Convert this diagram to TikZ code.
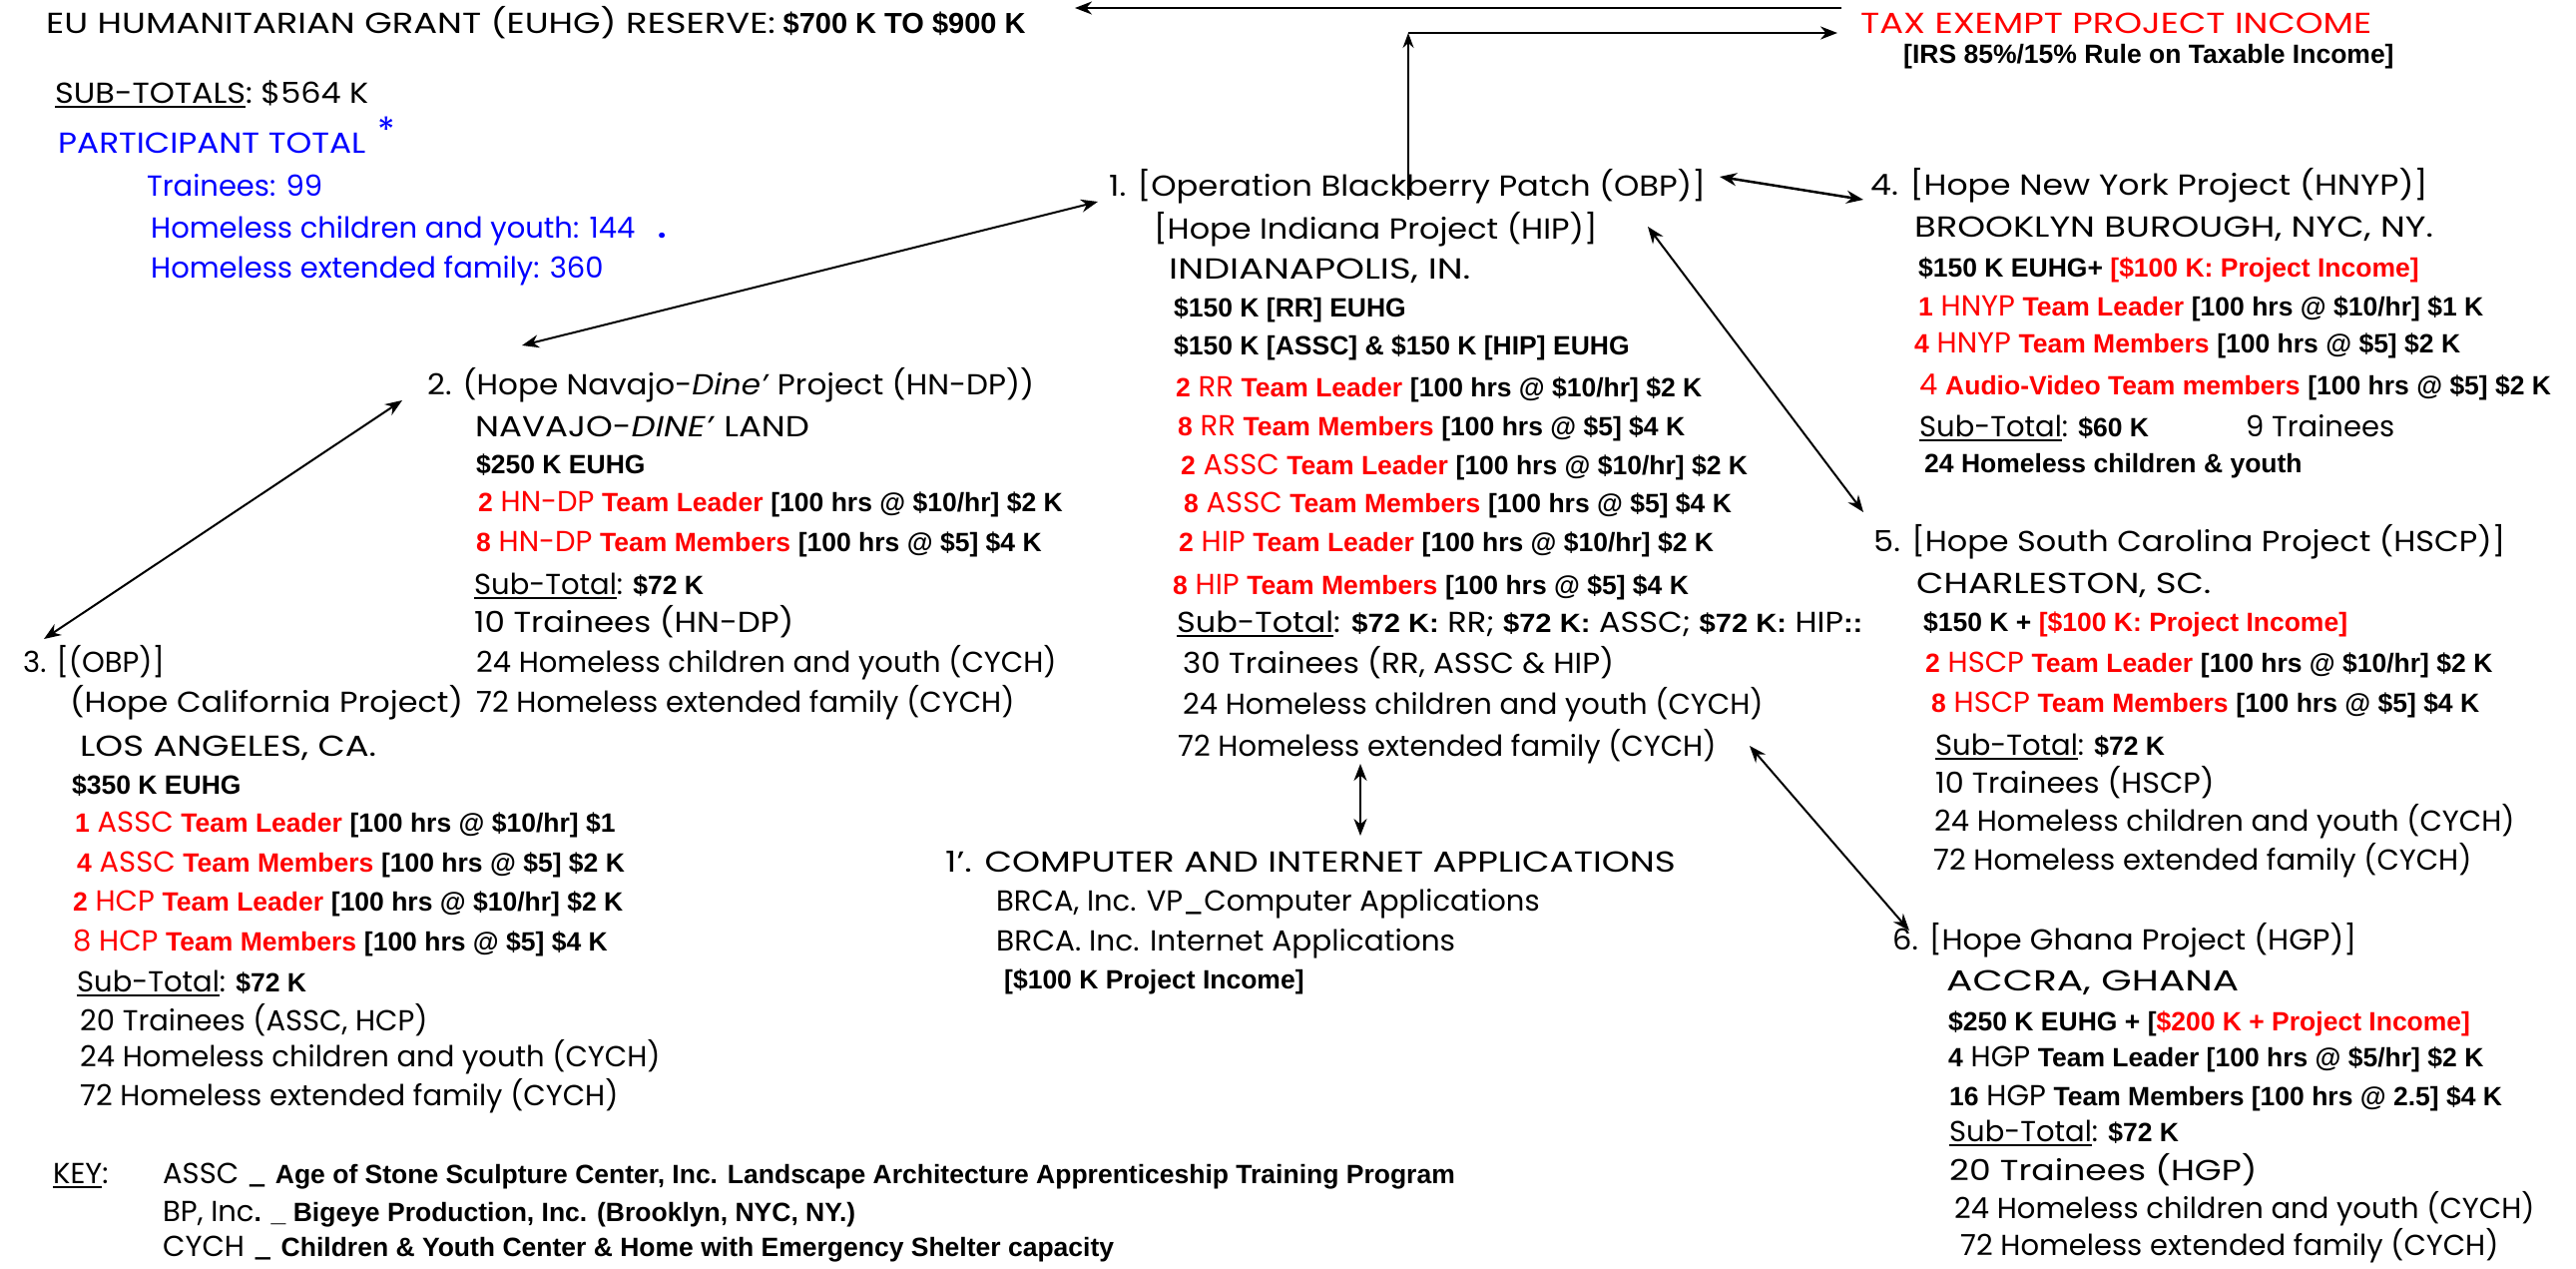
\documentclass[tikz,border=0pt]{standalone}
\usepackage{fontspec}
\setmainfont{Poppins}
\newfontfamily\arialfam{Liberation Sans}
\usepackage{xcolor}
\usetikzlibrary{arrows.meta}
\definecolor{pred}{RGB}{255,0,0}
\definecolor{pblue}{RGB}{0,0,255}

% bold parts, red parts, underlines, wider set lines
\newcommand{\bx}[1]{{\arialfam\bfseries\fontsize{26.5}{30}\selectfont #1}}
\newcommand{\bxl}[1]{{\arialfam\bfseries\fontsize{29}{34}\selectfont #1}}
\newcommand{\ulx}[1]{\setbox0=\hbox{#1}\rlap{\rule[-5pt]{\wd0}{2pt}}\box0}
\newcommand{\tml}[4]{\textcolor{pred}{\bx{#1} #2 \bx{#3}} \bx{#4}}
\newcommand{\sbt}[1]{\ulx{Sub-Total}: \bx{#1}}
\newcommand{\sx}[2]{\scalebox{#1}[1]{#2}}

\begin{document}
\begin{tikzpicture}[x=1pt,y=-1pt,
    txt/.style={anchor=base west, inner sep=0pt, font=\fontsize{29}{34}\selectfont},
    arr/.style={{Stealth[length=17pt,width=13pt]}-{Stealth[length=17pt,width=13pt]}, line width=2pt}]
    \useasboundingbox (0,0) rectangle (2581,1270);

    % top
    \node[txt] (euhg) at (46,33) {\sx{1.22}{EU HUMANITARIAN GRANT (EUHG) RESERVE:} \bxl{\$700 K TO \$900 K}};
    \node[txt, text=pred] (tax) at (1864,33) {\sx{1.22}{TAX EXEMPT PROJECT INCOME}};
    \node[txt] (irs) at (1907,63) {\bx{[IRS 85\%/15\% Rule on Taxable Income]}};

    % totals
    \node[txt] (subt) at (55,103) {\sx{1.1}{\ulx{SUB-TOTALS}:\ \$564 K}};
    \node[txt, text=pblue] (ptot) at (58,153) {\sx{1.13}{PARTICIPANT TOTAL}\hspace{12pt}\raisebox{10pt}{\fontsize{36}{36}\selectfont *}};
    \node[txt, text=pblue] (pt1) at (147,196) {Trainees: 99};
    \node[txt, text=pblue] (pt2) at (151,238) {Homeless children and youth: 144\ \ \ \textbf{.}};
    \node[txt, text=pblue] (pt3) at (151,278) {Homeless extended family: 360};

    % 1. OBP / HIP
    \node[txt] (obp1) at (1111,196) {\sx{1.11}{1. [Operation Blackberry Patch (OBP)]}};
    \node[txt] (obp2) at (1156,239) {\sx{1.1}{[Hope Indiana Project (HIP)]}};
    \node[txt] (obp3) at (1171,279) {\sx{1.27}{INDIANAPOLIS, IN.}};
    \node[txt] (obp4) at (1176,317) {\bx{\$150 K [RR] EUHG}};
    \node[txt] (obp5) at (1176,355) {\bx{\$150 K [ASSC] \& \$150 K [HIP] EUHG}};
    \node[txt] (obp6) at (1178,397) {\tml{2}{RR}{Team Leader}{[100 hrs @ \$10/hr] \$2 K}};
    \node[txt] (obp7) at (1180,436) {\tml{8}{RR}{Team Members}{[100 hrs @ \$5] \$4 K}};
    \node[txt] (obp8) at (1183,475) {\tml{2}{ASSC}{Team Leader}{[100 hrs @ \$10/hr] \$2 K}};
    \node[txt] (obp9) at (1186,513) {\tml{8}{ASSC}{Team Members}{[100 hrs @ \$5] \$4 K}};
    \node[txt] (obp10) at (1181,552) {\tml{2}{HIP}{Team Leader}{[100 hrs @ \$10/hr] \$2 K}};
    \node[txt] (obp11) at (1175,595) {\tml{8}{HIP}{Team Members}{[100 hrs @ \$5] \$4 K}};
    \node[txt] (obp12) at (1179,633) {\sx{1.1}{\ulx{Sub-Total}: \bx{\$72 K:} RR; \bx{\$72 K:} ASSC; \bx{\$72 K:} HIP\bx{::}}};
    \node[txt] (obp13) at (1185,674) {\sx{1.065}{30 Trainees (RR, ASSC \& HIP)}};
    \node[txt] (obp14) at (1185,715) {24 Homeless children and youth (CYCH)};
    \node[txt] (obp15) at (1180,757) {72 Homeless extended family (CYCH)};

    % 1'. computer and internet
    \node[txt] (cia1) at (947,873) {\sx{1.23}{1'. COMPUTER AND INTERNET APPLICATIONS}};
    \node[txt] (cia2) at (998,912) {BRCA, Inc. VP\_Computer Applications};
    \node[txt] (cia3) at (998,952) {\sx{1.02}{BRCA. Inc. Internet Applications}};
    \node[txt] (cia4) at (1006,990) {\bx{[\$100 K Project Income]}};

    % 2. HN-DP
    \node[txt] (hndp1) at (428,395) {\sx{1.07}{2. (Hope Navajo-\textit{Dine'} Project (HN-DP))}};
    \node[txt] (hndp2) at (476,437) {\sx{1.175}{NAVAJO-\textit{DINE'} LAND}};
    \node[txt] (hndp3) at (477,474) {\bx{\$250 K EUHG}};
    \node[txt] (hndp4) at (479,512) {\tml{2}{HN-DP}{Team Leader}{[100 hrs @ \$10/hr] \$2 K}};
    \node[txt] (hndp5) at (477,552) {\tml{8}{HN-DP}{Team Members}{[100 hrs @ \$5] \$4 K}};
    \node[txt] (hndp6) at (475,595) {\sbt{\$72 K}};
    \node[txt] (hndp7) at (475,633) {\sx{1.12}{10 Trainees (HN-DP)}};
    \node[txt] (hndp8) at (477,673) {24 Homeless children and youth (CYCH)};
    \node[txt] (hndp9) at (477,713) {72 Homeless extended family (CYCH)};

    % 3. HCP
    \node[txt] (hcp1) at (23,673) {3. [(OBP)]};
    \node[txt] (hcp2) at (70,713) {\sx{1.1}{(Hope California Project)}};
    \node[txt] (hcp3) at (80,757) {\sx{1.22}{LOS ANGELES, CA.}};
    \node[txt] (hcp4) at (72,795) {\bx{\$350 K EUHG}};
    \node[txt] (hcp5) at (75,833) {\tml{1}{ASSC}{Team Leader}{[100 hrs @ \$10/hr] \$1}};
    \node[txt] (hcp6) at (77,873) {\tml{4}{ASSC}{Team Members}{[100 hrs @ \$5] \$2 K}};
    \node[txt] (hcp7) at (73,912) {\tml{2}{HCP}{Team Leader}{[100 hrs @ \$10/hr] \$2 K}};
    \node[txt] (hcp8) at (73,952) {\textcolor{pred}{8 HCP \bx{Team Members}} \bx{[100 hrs @ \$5] \$4 K}};
    \node[txt] (hcp9) at (77,993) {\sbt{\$72 K}};
    \node[txt] (hcp10) at (80,1032) {20 Trainees (ASSC, HCP)};
    \node[txt] (hcp11) at (80,1068) {24 Homeless children and youth (CYCH)};
    \node[txt] (hcp12) at (80,1107) {72 Homeless extended family (CYCH)};

    % 4. HNYP
    \node[txt] (hnyp1) at (1874,195) {\sx{1.14}{4. [Hope New York Project (HNYP)]}};
    \node[txt] (hnyp2) at (1918,237) {\sx{1.22}{BROOKLYN BUROUGH, NYC, NY.}};
    \node[txt] (hnyp3) at (1922,277) {\bx{\$150 K EUHG+ \textcolor{pred}{[\$100 K: Project Income]}}};
    \node[txt] (hnyp4) at (1922,316) {\tml{1}{HNYP}{Team Leader}{[100 hrs @ \$10/hr] \$1 K}};
    \node[txt] (hnyp5) at (1918,353) {\tml{4}{HNYP}{Team Members}{[100 hrs @ \$5] \$2 K}};
    \node[txt] (hnyp6) at (1923,395) {\textcolor{pred}{4 \bx{Audio-Video Team members}} \bx{[100 hrs @ \$5] \$2 K}};
    \node[txt] (hnyp7) at (1923,437) {\sbt{\$60 K}};
    \node[txt] (hnyp8) at (2250,437) {9 Trainees};
    \node[txt] (hnyp9) at (1928,473) {\bx{24 Homeless children \& youth}};

    % 5. HSCP
    \node[txt] (hscp1) at (1877,552) {\sx{1.1}{5. [Hope South Carolina Project (HSCP)]}};
    \node[txt] (hscp2) at (1920,594) {\sx{1.22}{CHARLESTON, SC.}};
    \node[txt] (hscp3) at (1927,632) {\bx{\$150 K + \textcolor{pred}{[\$100 K: Project Income]}}};
    \node[txt] (hscp4) at (1929,673) {\tml{2}{HSCP}{Team Leader}{[100 hrs @ \$10/hr] \$2 K}};
    \node[txt] (hscp5) at (1935,713) {\tml{8}{HSCP}{Team Members}{[100 hrs @ \$5] \$4 K}};
    \node[txt] (hscp6) at (1939,756) {\sbt{\$72 K}};
    \node[txt] (hscp7) at (1939,794) {\sx{1.04}{10 Trainees (HSCP)}};
    \node[txt] (hscp8) at (1938,832) {24 Homeless children and youth (CYCH)};
    \node[txt] (hscp9) at (1937,871) {72 Homeless extended family (CYCH)};

    % 6. HGP
    \node[txt] (hgp1) at (1896,951) {\sx{1.05}{6. [Hope Ghana Project (HGP)]}};
    \node[txt] (hgp2) at (1950,992) {\sx{1.35}{ACCRA, GHANA}};
    \node[txt] (hgp3) at (1952,1032) {\bx{\$250 K EUHG + [\textcolor{pred}{\$200 K + Project Income]}}};
    \node[txt] (hgp4) at (1952,1068) {\bx{4} HGP \bx{Team Leader [100 hrs @ \$5/hr] \$2 K}};
    \node[txt] (hgp5) at (1953,1107) {\bx{16} HGP \bx{Team Members [100 hrs @ 2.5] \$4 K}};
    \node[txt] (hgp6) at (1953,1143) {\sbt{\$72 K}};
    \node[txt] (hgp7) at (1953,1182) {\sx{1.19}{20 Trainees (HGP)}};
    \node[txt] (hgp8) at (1958,1220) {24 Homeless children and youth (CYCH)};
    \node[txt] (hgp9) at (1964,1257) {72 Homeless extended family (CYCH)};

    % key
    \node[txt] (key) at (53,1185) {\ulx{KEY}:};
    \node[txt] (key1) at (163,1185) {ASSC \_ \bx{Age of Stone Sculpture Center, Inc. Landscape Architecture Apprenticeship Training Program}};
    \node[txt] (key2) at (163,1223) {BP, Inc\bx{. \_ Bigeye Production, Inc. (Brooklyn, NYC, NY.)}};
    \node[txt] (key3) at (163,1258) {CYCH \_ \bx{Children \& Youth Center \& Home with Emergency Shelter capacity}};

    % arrow ends
    \coordinate (taxL) at (1845,8);
    \coordinate (euhgR) at (1077,8);
    \coordinate (obpUp) at (1411,200);
    \coordinate (taxCorner) at (1411,33);
    \coordinate (taxIn) at (1841,33);
    \coordinate (obpR) at (1723,177);
    \coordinate (hnypL) at (1867,200);
    \coordinate (hipR) at (1651,227);
    \coordinate (hscpL) at (1867,513);
    \coordinate (obpL) at (1100,202);
    \coordinate (hndpR) at (523,346);
    \coordinate (hndpL) at (403,401);
    \coordinate (hcpT) at (44,640);
    \coordinate (obpB) at (1363,765);
    \coordinate (ciaT) at (1363,837);
    \coordinate (obpBR) at (1753,747);
    \coordinate (hgpL) at (1913,932);

    % arrows
    \draw[-{Stealth[length=17pt,width=13pt]}, line width=2.5pt] (taxL) -- (euhgR);
    \draw[-{Stealth[length=15pt,width=11pt]}, line width=1.5pt] (obpUp) -- (taxCorner);
    \draw[-{Stealth[length=17pt,width=13pt]}, line width=2.5pt] (taxCorner) -- (taxIn);
    \draw[arr, line width=2.5pt] (obpR) -- (hnypL);
    \draw[arr] (hipR) -- (hscpL);
    \draw[arr] (obpL) -- (hndpR);
    \draw[arr] (hndpL) -- (hcpT);
    \draw[arr] (obpB) -- (ciaT);
    \draw[arr] (obpBR) -- (hgpL);
\end{tikzpicture}
\end{document}
